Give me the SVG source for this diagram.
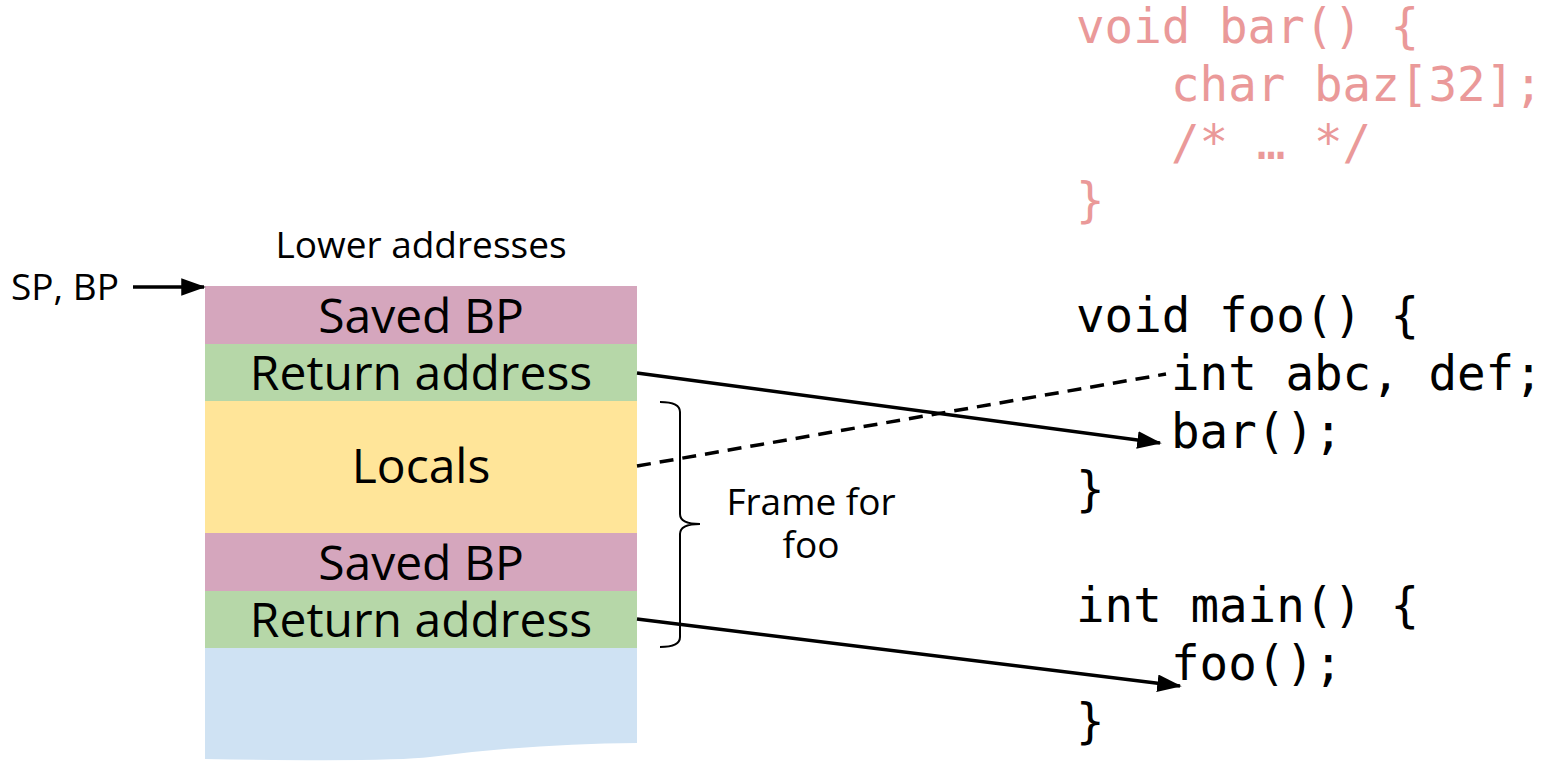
<svg xmlns="http://www.w3.org/2000/svg" width="1544" height="761" viewBox="0 0 1544 761">
  <defs>
    <style>
      .lbl { font-family: "Open Sans", "Noto Sans", sans-serif; fill: #000; }
      .big { font-size: 48px; text-anchor: middle; }
      .small { font-size: 37px; }
      .code { font-family: "DejaVu Sans Mono", "Liberation Mono", monospace; font-size: 47.5px; }
      .dim { fill: #ea9999; }
      .ink { fill: #000; }
      .wire { stroke: #000; stroke-width: 3.5; fill: none; }
    </style>
    <marker id="head" viewBox="0 0 14 10" refX="13" refY="5" markerWidth="7" markerHeight="5" markerUnits="strokeWidth" orient="auto">
      <path d="M0 0 L14 5 L0 10 Z" fill="#000"/>
    </marker>
  </defs>

  <rect width="1544" height="761" fill="#fff"/>

  <!-- stack column -->
  <g id="stack-top-bp">
    <rect x="205" y="286" width="432" height="58" fill="#d5a6bd"/>
    <text class="lbl big" x="421" y="333">Saved BP</text>
  </g>
  <g id="stack-top-ret">
    <rect x="205" y="344" width="432" height="57" fill="#b6d7a8"/>
    <text class="lbl big" x="421" y="390">Return address</text>
  </g>
  <g id="stack-locals">
    <rect x="205" y="401" width="432" height="132" fill="#ffe599"/>
    <text class="lbl big" x="421" y="483">Locals</text>
  </g>
  <g id="stack-bp">
    <rect x="205" y="533" width="432" height="58" fill="#d5a6bd"/>
    <text class="lbl big" x="421" y="580">Saved BP</text>
  </g>
  <g id="stack-ret">
    <rect x="205" y="591" width="432" height="57" fill="#b6d7a8"/>
    <text class="lbl big" x="421" y="637">Return address</text>
  </g>
  <g id="stack-rest">
    <path d="M205 648 H637 V743 Q530 744 430 757 Q390 762 205 759 Z" fill="#cfe2f3"/>
  </g>

  <g id="label-lower">
    <text class="lbl small" x="421" y="258" text-anchor="middle">Lower addresses</text>
  </g>
  <g id="label-spbp">
    <text class="lbl small" x="11" y="300">SP, BP</text>
  </g>

  <!-- frame brace -->
  <g id="frame-brace">
    <path class="wire" style="stroke-width:2" d="M660 402 Q680 402 680 412 V514 Q680 524 700 524 Q680 524 680 534 V637 Q680 647 660 647"/>
    <text class="lbl small" x="811" y="515" text-anchor="middle">Frame for</text>
    <text class="lbl small" x="811" y="558" text-anchor="middle">foo</text>
  </g>

  <!-- source code -->
  <g id="code-bar">
    <text class="code dim" x="1076" y="43">void bar() {</text>
    <text class="code dim" x="1171" y="101">char baz[32];</text>
    <text class="code dim" x="1171" y="159">/* … */</text>
    <text class="code dim" x="1076" y="217">}</text>
  </g>
  <g id="code-foo">
    <text class="code ink" x="1076" y="332">void foo() {</text>
    <text class="code ink" x="1171" y="390">int abc, def;</text>
    <text class="code ink" x="1171" y="448">bar();</text>
    <text class="code ink" x="1076" y="506">}</text>
  </g>
  <g id="code-main">
    <text class="code ink" x="1076" y="622">int main() {</text>
    <text class="code ink" x="1171" y="680">foo();</text>
    <text class="code ink" x="1076" y="738">}</text>
  </g>

  <!-- connectors -->
  <g id="connectors">
    <line class="wire" x1="133" y1="287" x2="204" y2="287" marker-end="url(#head)"/>
    <line class="wire" x1="637" y1="373" x2="1160" y2="443" marker-end="url(#head)"/>
    <line class="wire" x1="637" y1="619" x2="1180" y2="686" marker-end="url(#head)"/>
    <line class="wire" x1="637" y1="466" x2="1166" y2="374" stroke-dasharray="14 9"/>
  </g>
</svg>
